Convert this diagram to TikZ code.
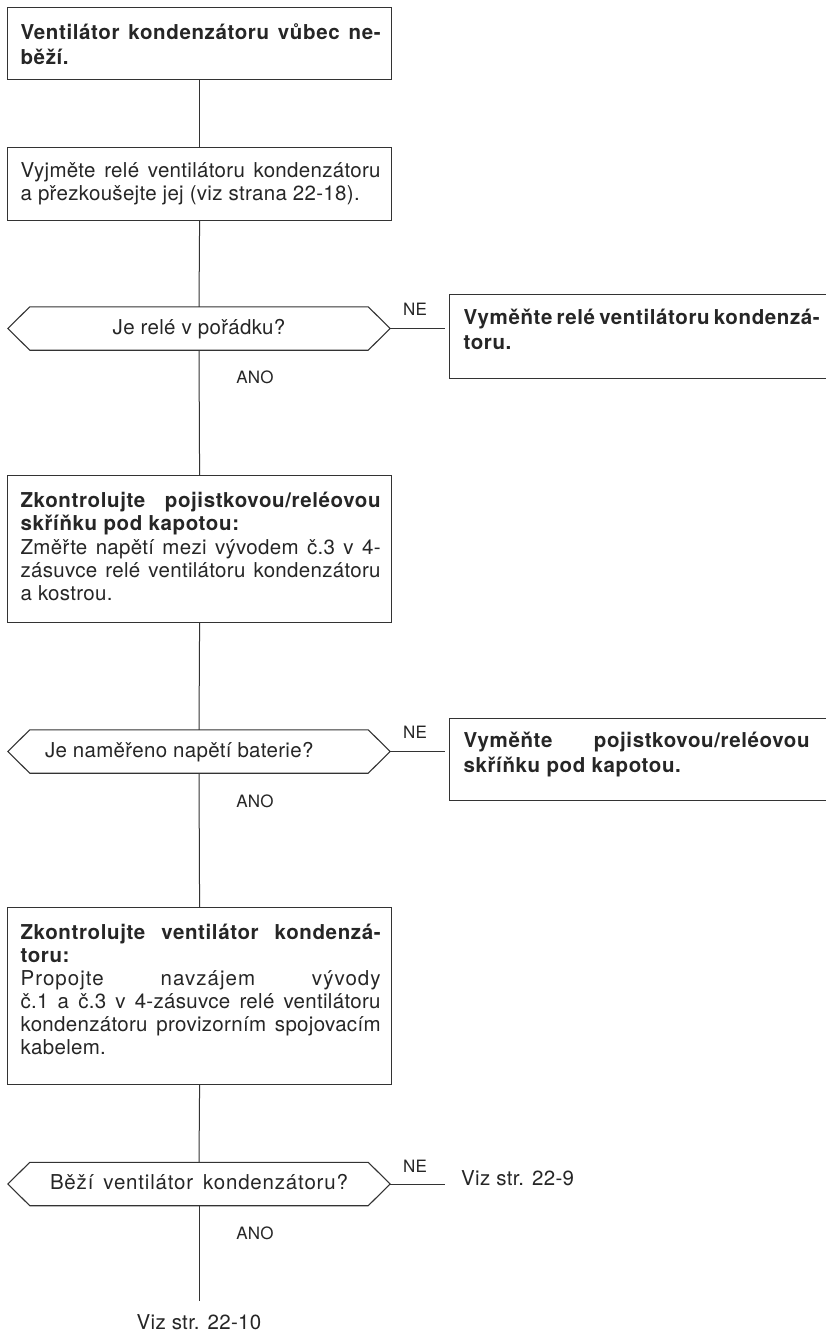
\documentclass[tikz,border=0pt]{standalone}
\usepackage{fontspec}
\setmainfont{TeX Gyre Heros}[LetterSpace=1.5, BoldFeatures={LetterSpace=3}]
\definecolor{ink}{HTML}{262626}
\definecolor{linec}{HTML}{333333}
\newlength\boxw
\newlength\padl
\newlength\txtw
\newcommand\jline[1]{\hbox to \boxw{\hskip\padl\rule{0pt}{19pt}\makebox[\txtw][s]{#1}\hss}}
\newcommand\lline[1]{\hbox to \boxw{\hskip\padl\rule{0pt}{19pt}#1\hss}}
\newcommand\boxbody[4]{\vbox to #1{\fontsize{20.5pt}{#3}\selectfont\baselineskip=#3\relax\lineskiplimit=-100pt\relax\lineskip=0pt\relax\vskip\dimexpr#2-19pt\relax#4\vfil}}
\newcommand\mainsizes{\setlength\boxw{384pt}\setlength\padl{13pt}\setlength\txtw{360pt}}
\newcommand\nesizes[1]{\setlength\boxw{400pt}\setlength\padl{14pt}\setlength\txtw{#1}}
\newcommand\hexout[1]{\draw[hexline] (#1.west) -- ([xshift=22pt]#1.north west) -- ([xshift=-22pt]#1.north east) -- (#1.east) -- ([xshift=-22pt]#1.south east) -- ([xshift=22pt]#1.south west) -- cycle;}
\tikzset{
 boxnode/.style={draw=linec, line width=1.2pt, inner sep=0pt, anchor=north west, text=ink},
 hexnode/.style={inner sep=0pt, minimum width=382pt, minimum height=43pt, text height=15pt, text depth=4pt, text=ink, font=\fontsize{20.5pt}{24pt}\selectfont},
 hexline/.style={draw=linec, line width=1.1pt, line join=miter},
 conn/.style={draw=linec, line width=1pt},
 lbl/.style={inner sep=0pt, text=ink, font=\fontsize{17pt}{20pt}\selectfont},
 reftext/.style={inner sep=0pt, text=ink, font=\fontsize{20.5pt}{24pt}\selectfont},
}
\begin{document}
\begin{tikzpicture}[x=1pt,y=1pt]
\useasboundingbox (0,0) rectangle (826,-1333);
\fill[white] (0,0) rectangle (826,-1333);
\clip (0,0) rectangle (826,-1333);

% main boxes
\node[boxnode] (b1) at (7,-7) {\mainsizes\boxbody{72pt}{32pt}{25pt}{%
 \jline{\bfseries Ventilátor kondenzátoru vůbec ne-}%
 \lline{\bfseries běží.}}};
\node[boxnode] (b2) at (7,-147) {\mainsizes\boxbody{73pt}{30pt}{22.5pt}{%
 \jline{Vyjměte relé ventilátoru kondenzátoru}%
 \lline{a přezkoušejte jej (viz strana 22-18).}}};
\node[boxnode] (b3) at (7,-475) {\mainsizes\boxbody{147pt}{32pt}{23.25pt}{%
 \jline{\bfseries\addfontfeatures{LetterSpace=4.5}Zkontrolujte pojistkovou/reléovou}%
 \lline{\bfseries skříňku pod kapotou:}%
 \jline{Změřte napětí mezi vývodem č.3 v 4-}%
 \jline{zásuvce relé ventilátoru kondenzátoru}%
 \lline{a kostrou.}}};
\node[boxnode] (b4) at (7,-907) {\mainsizes\boxbody{177pt}{32pt}{23pt}{%
 \jline{\bfseries\addfontfeatures{LetterSpace=5}Zkontrolujte ventilátor kondenzá-}%
 \lline{\bfseries toru:}%
 \jline{\addfontfeatures{LetterSpace=5}Propojte navzájem vývody}%
 \jline{č.1 a č.3 v 4-zásuvce relé ventilátoru}%
 \jline{kondenzátoru provizorním spojovacím}%
 \lline{kabelem.}}};

% NE boxes
\node[boxnode] (n1) at (449,-294) {\nesizes{352pt}\boxbody{84pt}{30pt}{25pt}{%
 \jline{\bfseries\addfontfeatures{LetterSpace=0}Vyměňte relé ventilátoru kondenzá-}%
 \lline{\bfseries\addfontfeatures{LetterSpace=0}toru.}}};
\node[boxnode] (n2) at (449,-718) {\nesizes{346pt}\boxbody{82pt}{29pt}{25pt}{%
 \jline{\bfseries\addfontfeatures{LetterSpace=6}Vyměňte pojistkovou/reléovou}%
 \lline{\bfseries skříňku pod kapotou.}}};

% decisions
\node[hexnode] (h1) at (199,-328.5) {Je relé v pořádku?};
\node[hexnode] (h2) at (199,-751.5) {\makebox[382pt][l]{\hspace{37pt}Je naměřeno napětí baterie?}};
\node[hexnode] (h3) at (199,-1184) {\makebox[298pt][s]{\addfontfeatures{LetterSpace=4}Běží ventilátor kondenzátoru?}};
\hexout{h1}
\hexout{h2}
\hexout{h3}

% labels
\node[lbl, anchor=base] (ne1) at (415,-315) {NE};
\node[lbl, anchor=base] (ne2) at (415,-738) {NE};
\node[lbl, anchor=base] (ne3) at (415,-1172) {NE};
\node[lbl, anchor=base] (ano1) at (255,-383) {ANO};
\node[lbl, anchor=base] (ano2) at (255,-807) {ANO};
\node[lbl, anchor=base] (ano3) at (255,-1239) {ANO};
\node[reftext, anchor=base west] (v9) at (461,-1185.5) {Viz str. 22-9};
\node[reftext, anchor=base] (v10) at (199,-1329) {Viz str. 22-10};

% connectors
\draw[conn] (b1.south) -- (b2.north);
\draw[conn] (b2.south) -- (h1.north);
\draw[conn] (h1.south) -- (b3.north);
\draw[conn] (b3.south) -- (h2.north);
\draw[conn] (h2.south) -- (b4.north);
\draw[conn] (b4.south) -- (h3.north);
\coordinate (endv) at (199,-1301);
\draw[conn] (h3.south) -- (endv);
\coordinate (e1) at ([xshift=-4pt]n1.west |- h1.east);
\coordinate (e2) at ([xshift=-4pt]n2.west |- h2.east);
\coordinate (e3) at ([xshift=-16pt]v9.west |- h3.east);
\draw[conn] (h1.east) -- (e1);
\draw[conn] (h2.east) -- (e2);
\draw[conn] (h3.east) -- (e3);
\end{tikzpicture}
\end{document}
